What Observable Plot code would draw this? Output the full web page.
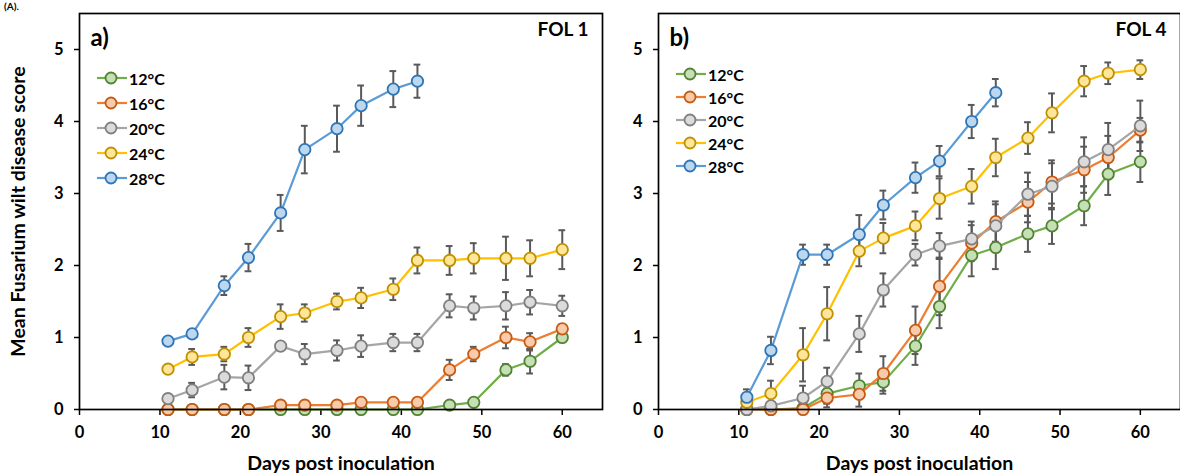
<!DOCTYPE html>
<html>
<head>
<meta charset="utf-8">
<script src="https://cdn.jsdelivr.net/npm/d3@7"></script>
<script src="https://cdn.jsdelivr.net/npm/@observablehq/plot@0.6"></script>
<style>
  html, body { margin: 0; padding: 0; background: white; }
  #wrap { position: relative; width: 1180px; height: 475px; overflow: hidden; background: white; font-family: Lato, "Open Sans", sans-serif; }
  .panel { position: absolute; top: 0; }
  .legend { position: absolute; font: bold 16px Lato, sans-serif; color: black; }
  .legend .row { display: flex; align-items: center; height: 14px; position: absolute; left: 0; white-space: nowrap; }
  .legend svg { display: block; margin-right: 2px; }
  .corner { position: absolute; left: 4px; top: 1px; font: bold 10px Lato, sans-serif; color: black; line-height: 11px; }
</style>
</head>
<body>
<div id="wrap">
  <div class="corner">(A).</div>
</div>
<script>
const days = [11, 14, 18, 21, 25, 28, 32, 35, 39, 42, 46, 49, 53, 56, 60];
const temps = ["12°C", "16°C", "20°C", "24°C", "28°C"];
const xTicks = [0, 10, 20, 30, 40, 50, 60];
const yTicks = [0, 1, 2, 3, 4, 5];

// Panel a) FOL 1 — means
const a12 = [0, 0, 0, 0, 0, 0, 0, 0, 0, 0, 0.06, 0.1, 0.55, 0.67, 1.0];
const a16 = [0, 0, 0, 0, 0.06, 0.06, 0.06, 0.1, 0.1, 0.1, 0.55, 0.77, 1.0, 0.94, 1.12];
const a20 = [0.15, 0.27, 0.45, 0.44, 0.88, 0.77, 0.82, 0.88, 0.93, 0.93, 1.44, 1.41, 1.44, 1.49, 1.44];
const a24 = [0.56, 0.73, 0.77, 1.0, 1.29, 1.34, 1.5, 1.55, 1.67, 2.07, 2.07, 2.1, 2.1, 2.1, 2.22];
const a28 = [0.95, 1.05, 1.72, 2.11, 2.73, 3.61, 3.9, 4.22, 4.45, 4.56];
// Panel a) FOL 1 — error (±)
const ea12 = [0, 0, 0, 0, 0, 0, 0, 0, 0, 0, 0.03, 0.03, 0.08, 0.17, 0.03];
const ea16 = [0, 0, 0, 0, 0.03, 0.03, 0.03, 0.05, 0.05, 0.05, 0.14, 0.1, 0.15, 0.12, 0.06];
const ea20 = [0.06, 0.1, 0.17, 0.17, 0.05, 0.14, 0.14, 0.15, 0.12, 0.12, 0.16, 0.16, 0.19, 0.17, 0.14];
const ea24 = [0.05, 0.11, 0.1, 0.13, 0.17, 0.12, 0.11, 0.14, 0.15, 0.18, 0.2, 0.21, 0.3, 0.25, 0.27];
const ea28 = [0.03, 0.04, 0.13, 0.19, 0.25, 0.33, 0.32, 0.28, 0.25, 0.23];

// Panel b) FOL 4 — means
const b12 = [0, 0, 0.02, 0.22, 0.33, 0.38, 0.88, 1.43, 2.14, 2.25, 2.44, 2.55, 2.83, 3.27, 3.44];
const b16 = [0, 0, 0, 0.16, 0.21, 0.5, 1.1, 1.71, 2.31, 2.61, 2.88, 3.16, 3.33, 3.5, 3.88];
const b20 = [0, 0.05, 0.16, 0.39, 1.05, 1.66, 2.15, 2.27, 2.37, 2.55, 2.99, 3.1, 3.44, 3.61, 3.94];
const b24 = [0.1, 0.22, 0.76, 1.33, 2.2, 2.38, 2.55, 2.93, 3.1, 3.5, 3.77, 4.12, 4.56, 4.67, 4.72];
const b28 = [0.17, 0.82, 2.15, 2.15, 2.43, 2.84, 3.22, 3.45, 4.0, 4.4];
// Panel b) FOL 4 — error (±)
const eb12 = [0, 0, 0.03, 0.14, 0.17, 0.16, 0.26, 0.3, 0.29, 0.3, 0.25, 0.25, 0.27, 0.29, 0.28];
const eb16 = [0, 0, 0, 0.13, 0.17, 0.24, 0.33, 0.4, 0.25, 0.28, 0.28, 0.3, 0.32, 0.3, 0.17];
const eb20 = [0.03, 0.05, 0.17, 0.19, 0.25, 0.23, 0.15, 0.18, 0.24, 0.3, 0.3, 0.32, 0.34, 0.37, 0.35];
const eb24 = [0.05, 0.18, 0.37, 0.37, 0.21, 0.21, 0.2, 0.28, 0.24, 0.26, 0.22, 0.27, 0.21, 0.15, 0.13];
const eb28 = [0.11, 0.19, 0.14, 0.14, 0.27, 0.2, 0.21, 0.21, 0.23, 0.19];

const lineColors = ["#70AD47", "#ED7D31", "#A5A5A5", "#FFC000", "#5B9BD5"];
const fillColors = ["#C5E0B4", "#F8CBAD", "#DBDBDB", "#FFE699", "#BDD7EE"];
const edgeColors = ["#548235", "#C55A11", "#7F7F7F", "#BF9000", "#2E75B6"];
const errColor = "#595959";

function buildRows(series, errors) {
  const rows = [];
  series.forEach((vals, i) => {
    vals.forEach((v, j) => rows.push({temp: temps[i], idx: i, day: days[j], v, e: errors[i][j]}));
  });
  return rows;
}

function panel({series, errors, tag, title, yLabel, xLabel, width, marginLeft, marginRight}) {
  const rows = buildRows(series, errors);
  const err = rows.filter(d => d.e > 0);
  const cap = 0.42;
  const marks = [
    Plot.ruleX(err, {x: "day", y1: d => d.v - d.e, y2: d => d.v + d.e, stroke: errColor, strokeWidth: 2}),
    Plot.ruleY(err, {y: d => d.v - d.e, x1: d => d.day - cap, x2: d => d.day + cap, stroke: errColor, strokeWidth: 2}),
    Plot.ruleY(err, {y: d => d.v + d.e, x1: d => d.day - cap, x2: d => d.day + cap, stroke: errColor, strokeWidth: 2})
  ];
  temps.forEach((t, i) => {
    const s = rows.filter(d => d.idx === i);
    marks.push(Plot.line(s, {x: "day", y: "v", stroke: lineColors[i], strokeWidth: 2.2}));
    marks.push(Plot.dot(s, {x: "day", y: "v", r: 5.7, fill: fillColors[i], stroke: edgeColors[i], strokeWidth: 1.8}));
  });
  const extra = [];
  if (yLabel) extra.push(Plot.text([yLabel], {frameAnchor: "left", dx: -61, rotate: -90, fontSize: 19.5, fontWeight: "bold", fill: "black", textAnchor: "middle", lineAnchor: "middle"}));
  extra.push(Plot.text([xLabel], {frameAnchor: "bottom", dy: 54, fontSize: 19.5, fontWeight: "bold", fill: "black", textAnchor: "middle", lineAnchor: "middle"}));
  return Plot.plot({
    width, height: 475,
    marginTop: 13, marginBottom: 66, marginLeft, marginRight,
    x: {domain: [0, 65]},
    y: {domain: [0, 5.5]},
    style: {fontFamily: "Lato, sans-serif", fontSize: "16px", fontWeight: "bold", color: "black", background: "transparent", overflow: "visible"},
    marks: [
      Plot.axisX({ticks: xTicks, tickFormat: d => String(d), tickSize: 6, tickPadding: 11, stroke: "black", strokeWidth: 1.5, fontSize: 16.5, fontWeight: "bold", label: null}),
      Plot.axisY({ticks: yTicks, tickFormat: d => String(d), tickSize: 5, tickPadding: 11, stroke: "black", strokeWidth: 1.5, fontSize: 16.5, fontWeight: "bold", label: null}),
      ...marks,
      Plot.frame({stroke: "black", strokeWidth: 1.7}),
      Plot.text([tag], {frameAnchor: "top-left", dx: 11, dy: 25, fontSize: 24, fontWeight: "bold", textAnchor: "start", lineAnchor: "middle", fill: "black"}),
      Plot.text([title], {frameAnchor: "top-right", dx: -14, dy: 16, fontSize: 19, fontWeight: "bold", textAnchor: "end", lineAnchor: "middle", fill: "black"}),
      ...extra
    ]
  });
}

function legend(left, top, step) {
  const div = document.createElement("div");
  div.className = "legend";
  div.style.left = left + "px";
  div.style.top = top + "px";
  temps.forEach((t, i) => {
    const row = document.createElement("div");
    row.className = "row";
    row.style.top = (i * step - 7) + "px";
    row.innerHTML = `<svg width="30" height="14"><line x1="0" x2="30" y1="7" y2="7" stroke="${lineColors[i]}" stroke-width="2.2"/><circle cx="14" cy="7" r="5.5" fill="${fillColors[i]}" stroke="${edgeColors[i]}" stroke-width="1.8"/></svg><span>${t}</span>`;
    div.appendChild(row);
  });
  return div;
}

const wrap = document.getElementById("wrap");

const pa = panel({series: [a12, a16, a20, a24, a28], errors: [ea12, ea16, ea20, ea24, ea28],
  tag: "a)", title: "FOL 1", yLabel: "Mean Fusarium wilt disease score", xLabel: "Days post inoculation",
  width: 610, marginLeft: 79, marginRight: 8});
pa.classList.add("panel"); pa.style.left = "0px";
wrap.appendChild(pa);

const pb = panel({series: [b12, b16, b20, b24, b28], errors: [eb12, eb16, eb20, eb24, eb28],
  tag: "b)", title: "FOL 4", yLabel: null, xLabel: "Days post inoculation",
  width: 600, marginLeft: 52, marginRight: 26});
pb.classList.add("panel"); pb.style.left = "606px";
wrap.appendChild(pb);

wrap.appendChild(legend(97, 78, 25));
wrap.appendChild(legend(676, 74, 23));
</script>
</body>
</html>
